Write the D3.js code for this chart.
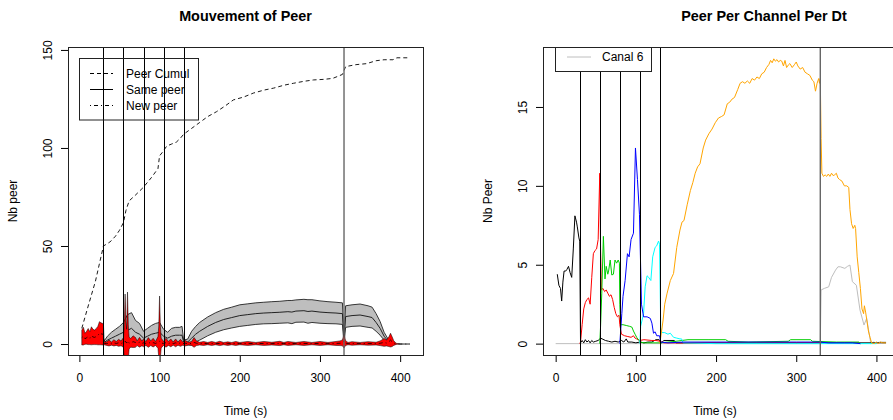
<!DOCTYPE html>
<html>
<head>
<meta charset="utf-8">
<script src="https://cdnjs.cloudflare.com/ajax/libs/d3/7.8.5/d3.min.js"></script>
<style>
  body { margin: 0; background: #fff; }
  text { font-family: "Liberation Sans", Arial, sans-serif; }
</style>
</head>
<body>
<svg id="chart" width="893" height="420"></svg>
<script>
// ---- data (time in s) ----
const timeTicks = [0, 100, 200, 300, 400];
const peerTicks = [0, 50, 100, 150];
const channelTicks = [0, 5, 10, 15];
const changeTimes = [30, 55, 80, 105, 130];
const lastChange = 330;

// [time, cumulated peers]
const cumulPeer = [[3,8],[10,18],[20,32],[30,50],[38,52],[45,55],[50,58],[55,62],[58,68],
  [62,73],[70,76],[80,80],[90,85],[98,89.5],[100,96],[103,97.5],[109,101],[115,102],
  [121,103],[126,105],[130,107],[140,110],[150,113],[160,116],[171,118.5],[182,121.5],
  [192,124.5],[205,126],[217,128],[230,129.5],[242,130.5],[255,132],[267,133],[280,134],
  [292,134.7],[305,135],[316,135.5],[322,136.5],[328,137.5],[332,141.5],[345,142.5],
  [358,143],[370,144.5],[380,145],[391,145],[396,146],[412,146]];

// [time, mean, sd] same peer
const samePeer = [[30,0.5,0.5],[35,2,2],[40,3,3],[45,4,3.5],[50,5,4],[55,6,5],[60,7,8],
  [65,8,8],[70,6,6],[75,5,5.5],[80,3,3.5],[85,4,4],[90,5,4.5],[95,5.5,5],[100,6,5],
  [105,4,3.5],[110,3,3],[115,4,4],[120,4.5,4],[125,4.5,4],[128,4.5,4.5],[130,1,1],
  [135,1,1.5],[140,3,3.5],[145,5,4],[150,6.5,4.5],[160,9,4.8],[170,11,5],[180,12.5,5.2],
  [190,13.5,5.3],[200,14.5,5.5],[210,15,5.5],[220,15.5,5.5],[230,15.8,5.5],[240,16,5.6],
  [250,16.2,5.6],[260,16.5,5.7],[265,16.3,5.9],[270,16.8,5.7],[280,17,5.8],[285,16.6,6],
  [290,16.8,5.8],[300,16.3,5.7],[310,16,5.6],[320,15.8,5.5],[328,15.5,5.5],[330,2,2],
  [332,14,5.5],[340,14.5,5.5],[350,14.8,5.6],[360,14,5.5],[365,13.5,5.3],[370,11,4.5],
  [375,8,3.5],[380,4,2],[385,1.5,1],[390,0.3,0.3]];

// [time, mean, sd] new peer
const newPeer = [[3,3.3,3.8],[5,4,4.5],[7,2.7,2.8],[9,3.2,3.3],[11,3.8,4.1],[13,3,3.3],
  [15,4.2,4.6],[17,3.6,3.9],[19,3.4,3.7],[21,3.8,4.1],[23,4.3,4.7],[25,5.5,5.9],[27,5.2,5.6],
  [29,5,5.5],[30,4.8,5.2],[31,0.3,0.7],[34,0.2,0.9],[37,0.5,1.5],[40,0.2,0.8],[43,0.6,1.6],
  [46,0.3,1],[49,0.6,1.8],[52,0.3,1.2],[55,0.8,2.5],[56,1,9],[57,1.5,24],[58,1,11],
  [59,0.5,7],[60,1.5,25],[61,0.8,9],[62,0.5,3],[64,0.6,2.2],[67,1.2,3],[70,0.8,2.5],
  [72,0.4,1.2],[75,0.9,2.5],[78,0.3,1.2],[80,0.6,2],[83,0.3,1],[86,0.8,2.5],[89,0.4,1.2],
  [92,0.7,2.2],[95,0.3,1],[98,0.8,3],[99,1.2,8],[100,1.5,23],[101,0.8,8],[102,0.5,2.5],
  [105,0.3,1],[108,0.7,2.3],[111,0.3,1],[114,0.6,2],[117,0.2,0.8],[120,0.6,2],[123,0.2,0.8],
  [126,0.6,1.8],[129,0.2,0.8],[132,0.4,1.4],[136,0.2,0.7],[140,0.3,1],[143,0.8,2.5],
  [146,0.4,1.2],[150,0.2,0.7],[155,0.3,1],[160,0.2,0.6],[165,0.3,1],[170,0.2,0.6],
  [175,0.3,1.1],[180,0.2,0.6],[185,0.2,0.9],[190,0.2,0.6],[195,0.3,1],[200,0.2,0.6],
  [210,0.3,1],[220,0.2,0.6],[230,0.3,1],[240,0.2,0.7],[250,0.3,1.1],[255,0.2,0.6],
  [260,0.3,1],[270,0.2,0.6],[280,0.3,1],[290,0.2,0.6],[300,0.3,1],[310,0.2,0.6],
  [320,0.3,1],[325,0.4,1.2],[328,0.6,1.5],[330,1.5,3.5],[332,0.5,1.2],[335,0.2,0.6],
  [340,0.3,0.9],[350,0.2,0.6],[360,0.3,0.9],[370,0.2,0.7],[375,0.4,1.2],[380,0.8,2],
  [383,0.5,1.5],[386,1.2,2.5],[388,2,3.5],[390,1.2,2.5],[392,0.5,1.2],[395,0.1,0.3],
  [400,0,0],[405,0,0],[412,0,0]];

// [time, peers] per channel
const canal1 = [[2,4.4],[4,3.7],[6,3.5],[7.5,2.7],[9,3.9],[10.5,4.6],[12.5,4.6],[14,4.7],
  [16,4.9],[18,4.5],[20,4.2],[22,6],[24,8.1],[26,7.7],[27,7.4],[29,6.7],[30,6.5],[31,0.05],
  [33,0.2],[35,0.05],[37,0.25],[39,0.1],[41,0.2],[43,0.05],[45,0.2],[47,0.1],[50,0.15],
  [53,0.2],[56,0.35],[58,0.3],[62,0.2],[66,0.15],[70,0.1],[74,0.15],[78,0.1],[82,0.2],
  [85,0.1],[88,0.3],[90,0.1],[95,0.1],[100,0.05],[105,0.1],[110,0.05],[115,0.1],[120,0.1],
  [125,0.25],[129,0.25],[131,0.02],[135,0.2],[148,0.2],[150,0.05],[200,0.05],[250,0.05],
  [300,0.05],[330,0.05],[360,0.05],[400,0.05],[412,0.05]];
const canal2 = [[30,0],[31,0.1],[33,1.2],[35,2.2],[37,2.6],[39,2.8],[41,2.9],[43,2.5],
  [45,4.2],[47,5.7],[49,5.9],[51,6],[53,6.6],[55,10.8],[56,6],[57,3.4],[59,3.5],[61,3.3],
  [63,3.4],[65,3.2],[67,3],[69,3.1],[71,2.8],[73,2.3],[75,1.9],[77,1.7],[79,1.8],[80,1.2],
  [82,0.6],[86,0.5],[90,0.45],[94,0.4],[97,0.5],[99,0.35],[101,0.3],[105,0.2],[110,0.25],
  [120,0.2],[125,0.2],[130,0.15],[135,0.05],[200,0.05],[300,0.05],[330,0.05]];
const canal3 = [[55,0],[56,1.1],[57.5,3.2],[59.5,6.8],[61.5,4.1],[63,4.9],[65,4.4],[66,4.6],
  [68,5.3],[70,4.35],[72,4.4],[74,5.3],[76,5.1],[78,5.3],[79.5,5.1],[80,2.5],[81,1.2],
  [84,1.2],[88,1.15],[92,1.1],[95,1.05],[97,0.8],[99,0.6],[101,0.4],[103,0.25],[106,0.1],
  [110,0.05],[130,0.05],[140,0.1],[150,0.15],[165,0.25],[190,0.25],[212,0.25],[215,0.15],
  [240,0.1],[290,0.15],[293,0.25],[318,0.25],[320,0.15],[350,0.1],[378,0.1],[380,0]];
const canal4 = [[80,0],[82.5,1.9],[84,3],[86.6,4],[89.5,5.7],[91.6,5.5],[94,6.6],[97,7],
  [99.5,12.4],[102,10.4],[104.5,8.2],[107,2.5],[109.6,1.7],[114,1.7],[118,1.6],[120,1.3],
  [122,0.66],[124,0.75],[126,0.5],[129.5,0.5],[131,0.1],[140,0.05],[160,0.1],[200,0.1],
  [250,0.1],[300,0.1],[330,0.1],[340,0.05],[370,0.05],[380,0]];
const canal5 = [[105,0],[106,1.1],[109.6,1.9],[111.6,3.6],[114,4.3],[116,4.2],[118.7,4],
  [121,5.5],[124,6.1],[126,6.2],[128.3,6.5],[129.5,6.3],[131,1],[132.5,0.7],[136,0.7],
  [140,0.6],[143,0.66],[147,0.4],[151,0.35],[155,0.3],[157,0.3],[159,0.05],[200,0],
  [300,0],[360,0],[400,0]];
const canal7 = [[130,0],[131,0.4],[134,1.5],[136,2.5],[139,3.2],[143,4],[147,4.45],[151,6.1],
  [155,7.2],[157.5,7.7],[160,7.8],[164,8.8],[168,9.7],[171,10.2],[174,10.8],[177,11.2],
  [180,11.4],[184,12.4],[187,12.9],[191,13.3],[195,13.6],[199,14],[203,14.3],[207,14.4],
  [210,14.5],[214,15.2],[217,15.3],[220,15.5],[223,15.6],[227,16.1],[230,16.5],[233,16.6],
  [236,16.5],[239,16.65],[242,16.5],[245,16.8],[248,16.7],[251,16.9],[254,16.8],[257,17.1],
  [260,17.2],[263,17.5],[266,17.7],[268,17.95],[270,17.8],[272,18.05],[274,17.9],[276,18],
  [278,17.85],[280,17.95],[282,17.9],[284,17.6],[286,17.95],[288,17.5],[290,17.65],
  [292,17.75],[295,17.5],[298,17.7],[300,17.85],[302,17.6],[305,17.4],[308,17.5],
  [311,17.2],[314,17.1],[317,17],[320,16.7],[322,16.6],[324,16],[326,16.5],[328,16.8],
  [329,16.5],[330,16.8],[331,13],[332,10.8],[334,10.6],[336,10.7],[338,10.6],[340,10.75],
  [342,10.6],[344,10.8],[346,10.65],[348,10.7],[350,10.8],[352,10.5],[354,10.4],[357,10.3],
  [360,10],[363,10],[365.5,9.9],[367,8.5],[369,7.6],[371,7.3],[373,7.5],[374,7.3],[376,5.5],
  [378,4.5],[380,3.5],[382,2.2],[384,1.9],[385,2.4],[386.5,2],[388,1.5],[390,0.8],[392,0.4],
  [394,0.05],[397,0],[400,0.1],[402,0],[405,0.1],[408,0.05],[412,0.05]];
const canal6 = [[0,0],[100,0],[200,0],[330,0],[331,3.4],[335,3.5],[340.5,3.6],[344,4.2],
  [349,4.66],[352,4.87],[355,4.87],[360.6,4.77],[364,4.9],[367,4.98],[370,3.93],[375,3.7],
  [379.5,2.13],[384.5,1.18],[387.8,1.6],[393,0],[396,0.1],[400,0.05],[405,0.1],[412,0.1]];

const channels = [
  {data: canal6, color: '#bebebe'},
  {data: canal1, color: '#000000'},
  {data: canal2, color: '#ff0000'},
  {data: canal3, color: '#00cd00'},
  {data: canal5, color: '#00ffff'},
  {data: canal7, color: '#ffa500'},
  {data: canal4, color: '#0000ff'},
];

// ---- layout ----
const svg = d3.select('#chart');
const plotTop = 47, plotBottom = 355;

const xL = d3.scaleLinear().domain([-14.2, 428.5]).range([68, 423]);
const yL = d3.scaleLinear().domain([-5.6, 151.5]).range([plotBottom, plotTop]);
const xR = d3.scaleLinear().domain([-15.8, 426.9]).range([543, 898]);
const yR = d3.scaleLinear().domain([-0.72, 18.8]).range([plotBottom, plotTop]);

function clip(id, x) {
  svg.append('clipPath').attr('id', id)
    .append('rect')
    .attr('x', x.range()[0]).attr('y', plotTop)
    .attr('width', x.range()[1] - x.range()[0]).attr('height', plotBottom - plotTop);
}

function axes(x, y, yTicks) {
  let gx = svg.append('g')
    .attr('transform', 'translate(0,' + plotBottom + ')')
    .call(d3.axisBottom(x).tickValues(timeTicks).tickSize(7).tickPadding(11));
  let gy = svg.append('g')
    .attr('transform', 'translate(' + x.range()[0] + ',0)')
    .call(d3.axisLeft(y).tickValues(yTicks).tickSize(7));
  [gx, gy].forEach(function(g) {
    g.select('.domain').remove();
    g.selectAll('line').attr('stroke', '#000');
    g.selectAll('text')
      .attr('font-size', 12).attr('fill', '#000')
      .attr('font-family', '"Liberation Sans", Arial, sans-serif');
  });
  gy.selectAll('text')
    .attr('transform', 'rotate(-90)')
    .attr('x', 0).attr('y', -16).attr('dy', 0)
    .attr('text-anchor', 'middle');
  svg.append('rect')
    .attr('x', x.range()[0] + 0.5).attr('y', plotTop + 0.5)
    .attr('width', x.range()[1] - x.range()[0]).attr('height', plotBottom - plotTop)
    .attr('fill', 'none').attr('stroke', '#222');
}

function labels(cx, xlabX, title, ylab, yx) {
  svg.append('text').attr('x', cx).attr('y', 21)
    .attr('text-anchor', 'middle').attr('font-size', 14.4).attr('font-weight', 'bold')
    .text(title);
  svg.append('text').attr('x', xlabX).attr('y', 415)
    .attr('text-anchor', 'middle').attr('font-size', 12)
    .text('Time (s)');
  svg.append('text')
    .attr('transform', 'translate(' + yx + ',201) rotate(-90)')
    .attr('text-anchor', 'middle').attr('font-size', 12)
    .text(ylab);
}

function changeLines(g, x) {
  g.selectAll('line.change')
    .data(changeTimes)
    .enter()
    .append('line')
    .attr('class', 'change')
    .attr('x1', function(d) { return Math.round(x(d)) + 0.5; })
    .attr('x2', function(d) { return Math.round(x(d)) + 0.5; })
    .attr('y1', plotTop).attr('y2', plotBottom)
    .attr('stroke', '#000').attr('stroke-width', 1);
  g.append('line')
    .attr('x1', x(lastChange)).attr('x2', x(lastChange))
    .attr('y1', plotTop).attr('y2', plotBottom)
    .attr('stroke', '#666').attr('stroke-width', 1.4);
}

// ---- left panel: Mouvement of Peer ----
clip('clipL', xL);
const gL = svg.append('g').attr('clip-path', 'url(#clipL)');

let band = d3.area()
  .x(function(d) { return xL(d[0]); })
  .y0(function(d) { return yL(d[1] - d[2]); })
  .y1(function(d) { return yL(d[1] + d[2]); });
let edge = function(sign) {
  return d3.line()
    .x(function(d) { return xL(d[0]); })
    .y(function(d) { return yL(d[1] + sign * d[2]); });
};
let mid = d3.line()
  .x(function(d) { return xL(d[0]); })
  .y(function(d) { return yL(d[1]); });

gL.append('path').datum(samePeer).attr('d', band)
  .attr('fill', '#bebebe');
[-1, 1].forEach(function(s) {
  gL.append('path').datum(samePeer).attr('d', edge(s))
    .attr('fill', 'none').attr('stroke', '#222').attr('stroke-width', 0.9);
});
gL.append('path').datum(samePeer).attr('d', mid)
  .attr('fill', 'none').attr('stroke', '#222').attr('stroke-width', 1);

gL.append('path').datum(newPeer).attr('d', band)
  .attr('fill', '#ff0000').attr('stroke', '#000').attr('stroke-width', 0.5);
gL.append('path').datum(newPeer).attr('d', mid)
  .attr('fill', 'none').attr('stroke', '#000').attr('stroke-width', 0.8)
  .attr('stroke-dasharray', '1,3,4,3');

gL.append('path').datum(cumulPeer).attr('d', mid)
  .attr('fill', 'none').attr('stroke', '#000').attr('stroke-width', 0.9)
  .attr('stroke-dasharray', '4,3');

changeLines(gL, xL);
axes(xL, yL, peerTicks);
labels(245.5, 245.5, 'Mouvement of Peer', 'Nb peer', 17);

// legend
const legendL = svg.append('g');
legendL.append('rect').attr('x', 79.5).attr('y', 58.5).attr('width', 119).attr('height', 61.5)
  .attr('fill', 'none').attr('stroke', '#222');
[['Peer Cumul', '4,3'], ['Same peer', null], ['New peer', '1,3,4,3']].forEach(function(d, i) {
  let yy = 73.5 + i * 16;
  legendL.append('line').attr('x1', 90).attr('x2', 113).attr('y1', yy).attr('y2', yy)
    .attr('stroke', '#000').attr('stroke-dasharray', d[1]);
  legendL.append('text').attr('x', 126).attr('y', yy).attr('dy', '0.36em')
    .attr('font-size', 12).text(d[0]);
});

// ---- right panel: Peer Per Channel Per Dt ----
clip('clipR', xR);
const gR = svg.append('g').attr('clip-path', 'url(#clipR)');
let chLine = d3.line()
  .x(function(d) { return xR(d[0]); })
  .y(function(d) { return yR(d[1]); });
gR.selectAll('path.channel')
  .data(channels)
  .enter()
  .append('path')
  .attr('class', 'channel')
  .attr('d', function(d) { return chLine(d.data); })
  .attr('fill', 'none')
  .attr('stroke', function(d) { return d.color; })
  .attr('stroke-width', 1);
changeLines(gR, xR);
axes(xR, yR, channelTicks);
labels(764, 715, 'Peer Per Channel Per Dt', 'Nb Peer', 492);

const legendR = svg.append('g');
legendR.append('rect').attr('x', 555.5).attr('y', 47.5).attr('width', 96).attr('height', 24)
  .attr('fill', '#fff').attr('stroke', '#222');
legendR.append('line').attr('x1', 567).attr('x2', 591).attr('y1', 57).attr('y2', 57)
  .attr('stroke', '#bebebe');
legendR.append('text').attr('x', 602).attr('y', 57).attr('dy', '0.36em')
  .attr('font-size', 12).text('Canal 6');
</script>
</body>
</html>
